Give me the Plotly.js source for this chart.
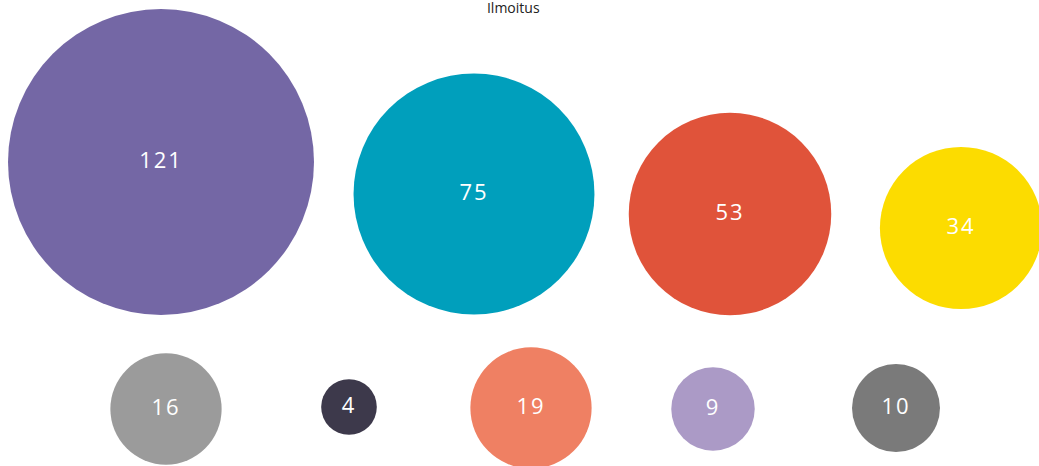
<!DOCTYPE html>
<html>
<head>
<meta charset="utf-8">
<script src="https://cdn.plot.ly/plotly-3.0.1.min.js"></script>
<style>
html,body{margin:0;padding:0;background:#fff;}
#chart{width:1039px;height:466px;}
.textpoint text{letter-spacing:2px;}
</style>
</head>
<body>
<div id="chart"></div>
<script>
// Data
var values = [121, 75, 53, 34, 16, 4, 19, 9, 10];
var colors = ['#7467A5', '#009FBC', '#E0533A', '#FCDC00', '#9B9B9B', '#3D394B', '#EF8063', '#AB9AC6', '#7A7A7A'];
// Packed layout positions (layout units)
var xPos = [161, 474, 730, 961, 166, 349, 531, 713, 896];
var yPos = [162, 194, 214, 228, 409, 407, 408, 409, 408];

var maxDiameter = 306;
var maxVal = Math.max.apply(null, values);

var trace = {
  type: 'scatter',
  mode: 'markers+text',
  x: xPos,
  y: yPos,
  text: values.map(String),
  textposition: 'middle center',
  textfont: {family: 'Open Sans, sans-serif', size: 22, color: '#ffffff'},
  marker: {
    size: values,
    sizemode: 'area',
    sizeref: 2 * maxVal / (maxDiameter * maxDiameter),
    color: colors,
    opacity: 1,
    line: {width: 0}
  },
  hoverinfo: 'text',
  cliponaxis: false
};

var layout = {
  width: 1039,
  height: 466,
  margin: {l: 0, r: 0, t: 0, b: 0},
  paper_bgcolor: '#ffffff',
  plot_bgcolor: '#ffffff',
  showlegend: false,
  title: {
    text: 'Ilmoitus',
    font: {family: 'Open Sans, sans-serif', size: 14, color: '#222222'},
    x: 0.494,
    xanchor: 'center',
    yref: 'container',
    y: 1 - 3 / 466,
    yanchor: 'top'
  },
  xaxis: {range: [0, 1039], visible: false, fixedrange: true},
  yaxis: {range: [466, 0], visible: false, fixedrange: true}
};

Plotly.newPlot('chart', [trace], layout, {displayModeBar: false, staticPlot: true});
</script>
</body>
</html>
